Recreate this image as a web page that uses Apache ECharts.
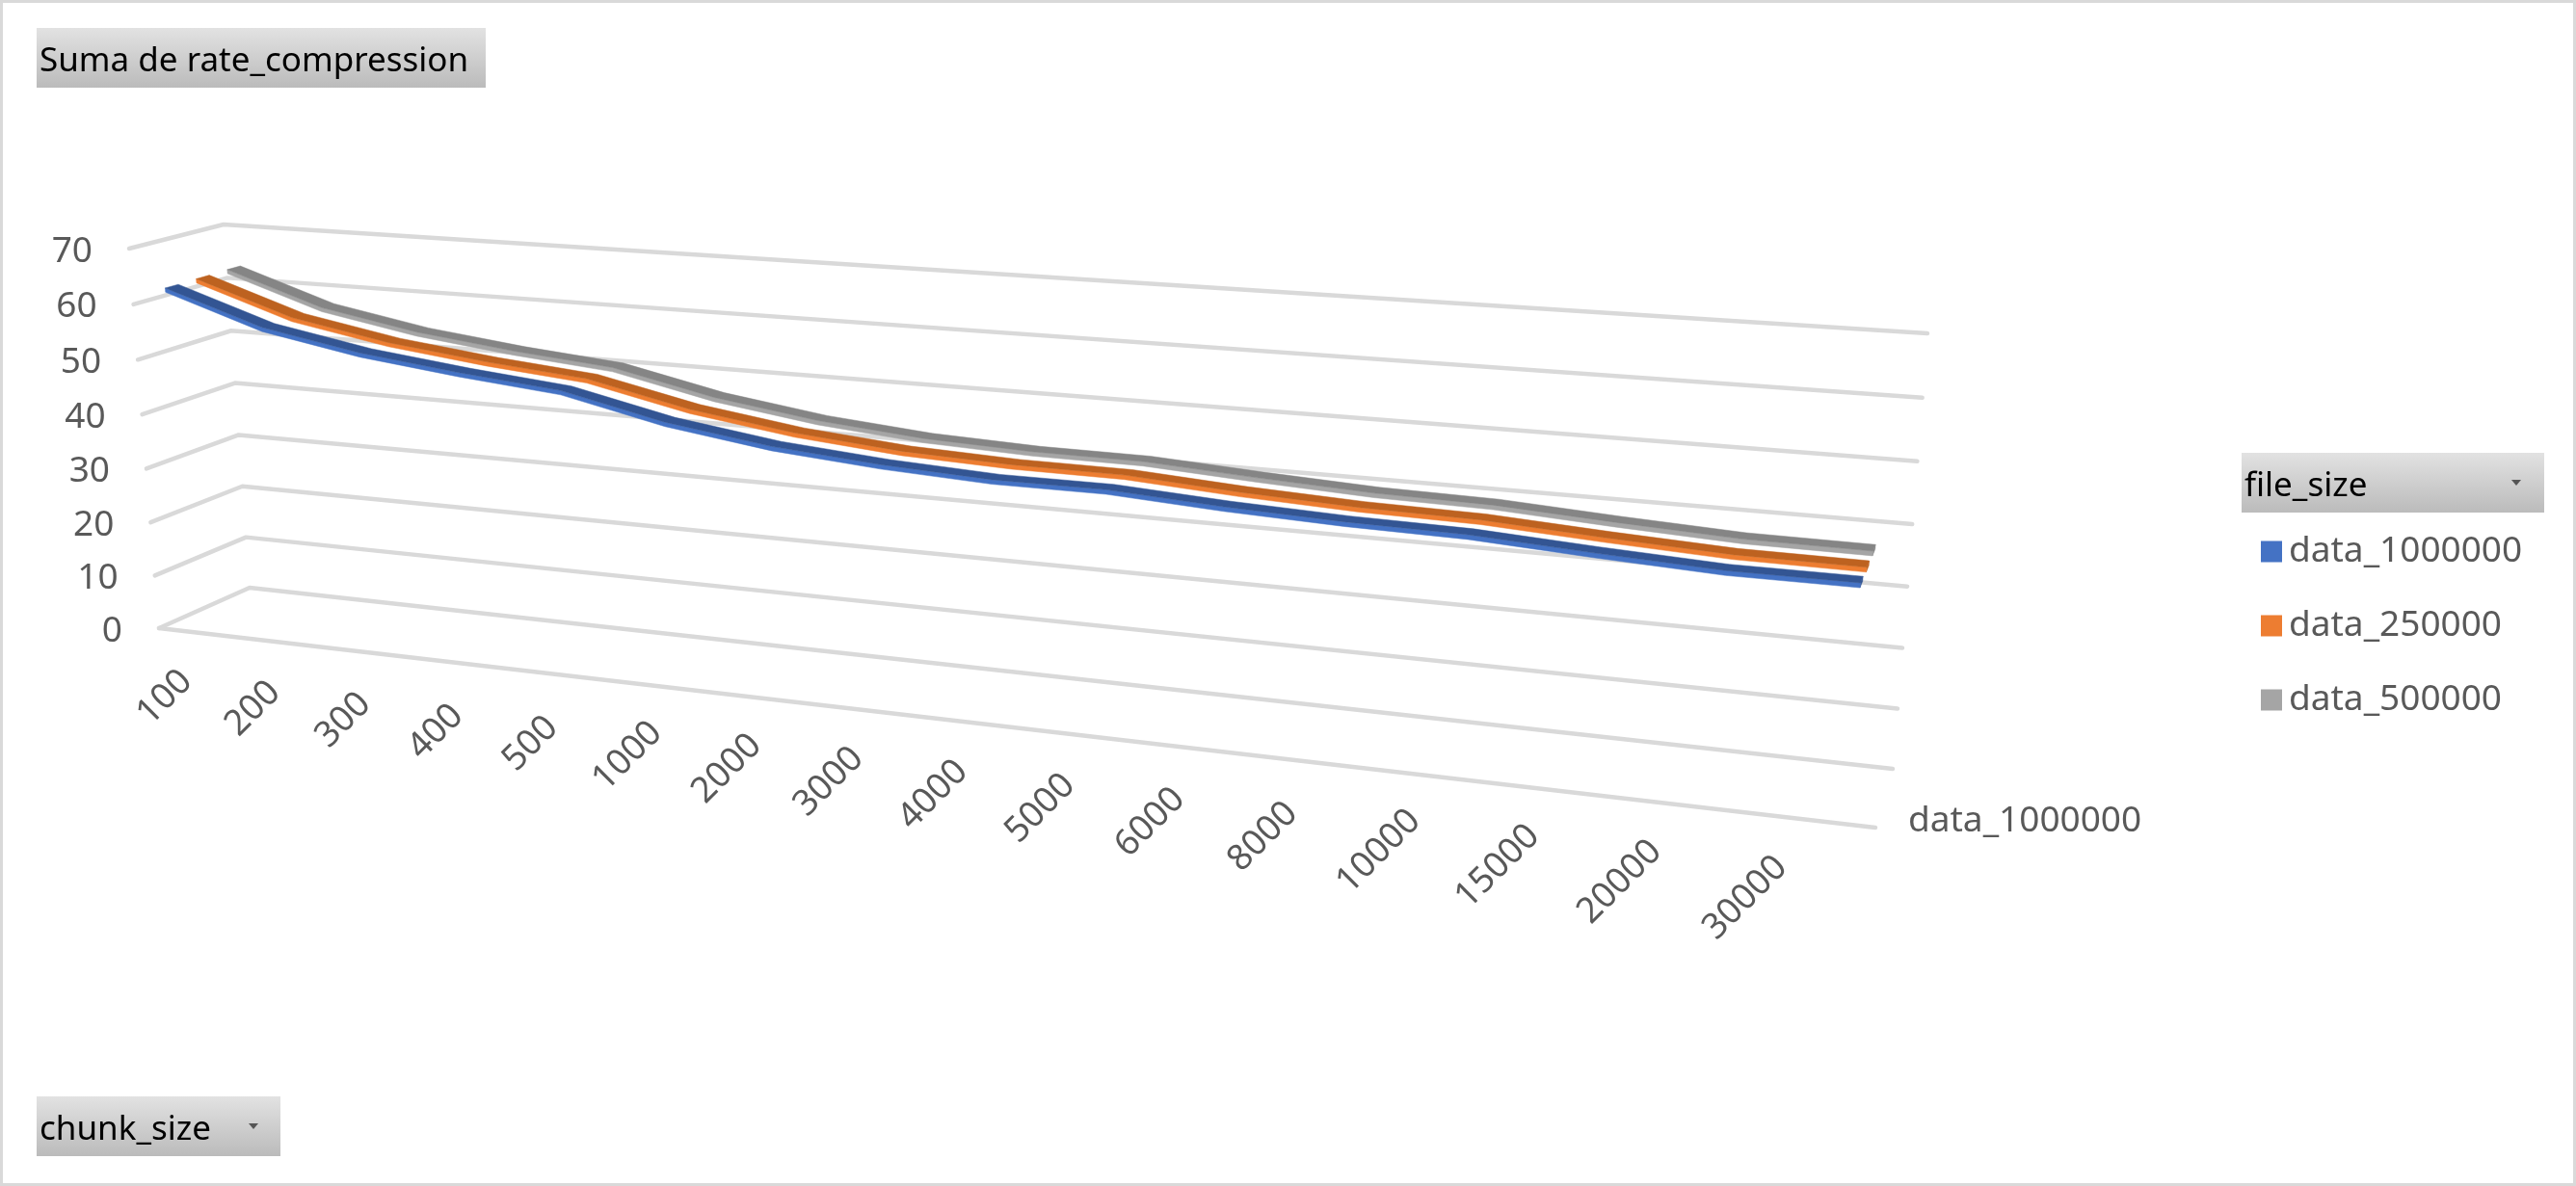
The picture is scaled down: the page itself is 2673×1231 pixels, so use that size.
<!DOCTYPE html>
<html>
<head>
<meta charset="utf-8">
<style>html,body{margin:0;padding:0;background:#fff}#c{width:2673px;height:1231px}</style>
<script src="https://cdn.jsdelivr.net/npm/echarts@6/dist/echarts.min.js"></script>
</head>
<body>
<div id="c"></div>
<script>
// ---- data ----
const chunkSizes = ['100','200','300','400','500','1000','2000','3000','4000','5000','6000','8000','10000','15000','20000','30000'];
const data1000000 = [62.8,57.0,53.8,51.7,50.0,46.0,43.4,41.9,41.0,41.0,39.9,39.2,38.9,37.8,36.9,36.9];
const data250000  = [62.9,57.1,53.9,51.8,50.2,46.3,43.7,42.1,41.4,41.3,40.1,39.3,39.0,37.9,37.0,36.9];
const data500000  = [63.0,57.2,54.0,51.9,50.3,46.4,43.8,42.2,41.5,41.4,40.3,39.4,39.1,38.0,37.1,37.0];
const valueTicks = [0,10,20,30,40,50,60,70];
const seriesNames = ['data_1000000','data_250000','data_500000'];
const filterTitle = 'Suma de rate_compression';
const legendTitle = 'file_size';
const axisTitle = 'chunk_size';

// ---- perspective of the box (screen corners of the two walls) ----
function quad(p00,p10,p01,p11){ // (u,v) unit square -> quad, p[u][v]
  const dx1=p10[0]-p11[0],dx2=p01[0]-p11[0],sx=p00[0]-p10[0]+p11[0]-p01[0];
  const dy1=p10[1]-p11[1],dy2=p01[1]-p11[1],sy=p00[1]-p10[1]+p11[1]-p01[1];
  const det=dx1*dy2-dx2*dy1;
  const g=(sx*dy2-dx2*sy)/det,h=(dx1*sy-sx*dy1)/det;
  const a=p10[0]-p00[0]+g*p10[0],b=p01[0]-p00[0]+h*p01[0],c=p00[0];
  const d=p10[1]-p00[1]+g*p10[1],e=p01[1]-p00[1]+h*p01[1],f=p00[1];
  return (u,v)=>{const w=g*u+h*v+1;return [(a*u+b*v+c)/w,(d*u+e*v+f)/w];};
}
const frontWall = quad([165,652],[1946,859],[134,258],[1983,383]);
const backWall  = quad([259,610],[1964,798],[232,233],[2000,346]);
function project(u,v,d){
  const a=frontWall(u,v),b=backWall(u,v);
  return [a[0]+(b[0]-a[0])*d,a[1]+(b[1]-a[1])*d];
}
const INSET=0.0165, RIBBON=0.07, DROP=0.75/70;
const depthOf=[1/6,1/2,5/6];
const K=0.828;
function perspLerp(A,B,t){
  const w=(1-t)+t*K;
  return [((1-t)*A[0]+t*K*B[0])/w,((1-t)*A[1]+t*K*B[1])/w];
}
// normalise a data point through the hidden cartesian axes
function norm(api,x,y){
  const o=api.coord([0,0]),e=api.coord([chunkSizes.length-1,70]),p=api.coord([x,y]);
  return [(p[0]-o[0])/(e[0]-o[0]),(p[1]-o[1])/(e[1]-o[1])];
}
const GRID_STYLE={stroke:'#d9d9d9',lineWidth:4.5,lineCap:'round',lineJoin:'round',fill:null};
const AXIS_FONT='37px "Noto Sans"';

function ribbon(values,seriesIdx,dark,light){
  return function(params,api){
    if(params.dataIndex!==0) return;
    const d=depthOf[seriesIdx];
    const pts=values.map((val,i)=>{const n=norm(api,i,val);return [INSET+n[0]*(1-2*INSET),n[1]];});
    const top=[],front=[];
    pts.forEach(p=>{top.push(project(p[0],p[1],d-RIBBON));front.push(project(p[0],p[1],d-RIBBON));});
    for(let i=pts.length-1;i>=0;i--){
      top.push(project(pts[i][0],pts[i][1],d+RIBBON));
      front.push(project(pts[i][0],pts[i][1]-DROP,d-RIBBON));
    }
    const L=pts[pts.length-1];
    const cap=[project(L[0],L[1],d-RIBBON),project(L[0],L[1],d+RIBBON),project(L[0],L[1]-DROP,d+RIBBON),project(L[0],L[1]-DROP,d-RIBBON)];
    return {type:'group',children:[
      {type:'polygon',shape:{points:cap},style:{fill:dark,stroke:dark,lineWidth:.5}},
      {type:'polygon',shape:{points:front},style:{fill:light,stroke:light,lineWidth:.5}},
      {type:'polygon',shape:{points:top},style:{fill:dark,stroke:dark,lineWidth:.5}}
    ]};
  };
}
function wallLines(params,api){
  const v=api.value(1);
  const n=norm(api,0,v);
  const lines=[{type:'polyline',shape:{points:[project(0,n[1],0),project(0,n[1],1),project(1,n[1],1)]},style:GRID_STYLE}];
  if(v===0) lines.push({type:'polyline',shape:{points:[project(0,0,0),project(1,0,0)]},style:GRID_STYLE});
  const p=project(0,n[1],0);
  lines.push({type:'text',x:p[0]-38,y:p[1]+3,style:{text:String(v),align:'right',verticalAlign:'middle',font:AXIS_FONT,fill:'#595959'}});
  if(v===0){
    const q=project(1,0,depthOf[0]);
    lines.push({type:'text',x:q[0]+31,y:q[1]+4,style:{text:seriesNames[0],align:'left',verticalAlign:'middle',font:AXIS_FONT,fill:'#595959'}});
  }
  return {type:'group',children:lines};
}
function catLabels(params,api){
  const n=norm(api,api.value(0),0);
  const p=perspLerp([171,724],[1811,932],n[0]);
  return {type:'text',x:p[0],y:p[1],rotation:Math.PI/4,style:{text:chunkSizes[params.dataIndex],align:'center',verticalAlign:'middle',font:AXIS_FONT,fill:'#595959'}};
}
function toPairs(arr){return arr.map((v,i)=>[i,v]);}
const btnFill={type:'linear',x:0,y:0,x2:0,y2:1,colorStops:[{offset:0,color:'#e2e2e2'},{offset:1,color:'#bbbbbb'}]};
function button(x,y,w,h,text,arrowX){
  const out=[
    {type:'rect',shape:{x,y,width:w,height:h},style:{fill:btnFill},silent:true},
    {type:'text',x:x+3,y:y+h/2+4,style:{text,font:'35px "Noto Sans"',fill:'#000',align:'left',verticalAlign:'middle'},silent:true}
  ];
  if(arrowX) out.push({type:'polygon',shape:{points:[[arrowX-5,y+h/2-3],[arrowX+5,y+h/2-3],[arrowX,y+h/2+3]]},style:{fill:'#555'},silent:true});
  return out;
}
const chart=echarts.init(document.getElementById('c'),null,{renderer:'canvas'});
chart.setOption({
  animation:false,
  backgroundColor:'#fff',
  color:['#4472c4','#ed7d31','#a5a5a5'],
  grid:{left:300,right:300,top:200,bottom:200},
  xAxis:{type:'category',data:chunkSizes,boundaryGap:false,show:false},
  yAxis:{type:'value',min:0,max:70,interval:10,show:false},
  legend:{show:true,orient:'vertical',left:2346,top:554,itemWidth:22,itemHeight:22,itemGap:40,icon:'rect',padding:0,
    data:seriesNames,selectedMode:false,textStyle:{fontFamily:'Noto Sans',fontSize:37,color:'#595959',padding:[0,0,0,2]}},
  graphic:[
    {type:'rect',shape:{x:1.5,y:1.5,width:2670,height:1228},style:{fill:null,stroke:'#d9d9d9',lineWidth:3},silent:true},
    ...button(38,29,466,62,filterTitle),
    ...button(2326,470,314,62,legendTitle,2611),
    ...button(38,1138,253,62,axisTitle,263)
  ],
  series:[
    {type:'custom',name:'walls',coordinateSystem:'cartesian2d',z:1,renderItem:wallLines,encode:{x:0,y:1},data:valueTicks.map(v=>[0,v])},
    {type:'custom',name:'labels',coordinateSystem:'cartesian2d',z:1,renderItem:catLabels,encode:{x:0,y:1},data:chunkSizes.map((c,i)=>[i,0])},
    {type:'custom',name:seriesNames[2],coordinateSystem:'cartesian2d',z:2,itemStyle:{color:'#a5a5a5'},renderItem:ribbon(data500000,2,'#858585','#a5a5a5'),encode:{x:0,y:1},data:toPairs(data500000)},
    {type:'custom',name:seriesNames[1],coordinateSystem:'cartesian2d',z:3,itemStyle:{color:'#ed7d31'},renderItem:ribbon(data250000,1,'#bd6220','#ed7d31'),encode:{x:0,y:1},data:toPairs(data250000)},
    {type:'custom',name:seriesNames[0],coordinateSystem:'cartesian2d',z:4,itemStyle:{color:'#4472c4'},renderItem:ribbon(data1000000,0,'#335593','#4472c4'),encode:{x:0,y:1},data:toPairs(data1000000)}
  ]
});
</script>
</body>
</html>
